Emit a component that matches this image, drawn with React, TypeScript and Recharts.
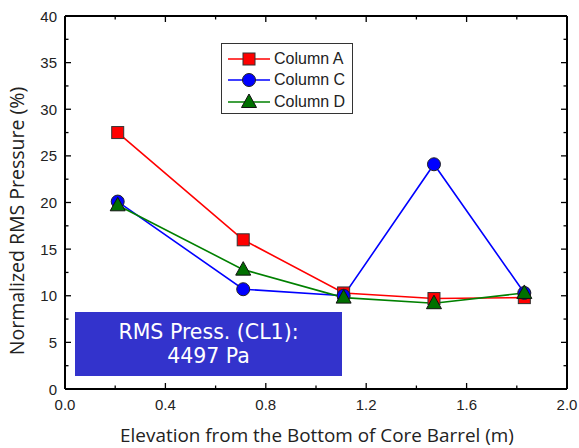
import React from 'react';
import { LineChart, Line, XAxis, YAxis, Legend } from 'recharts';

const elevation = [0.21, 0.71, 1.11, 1.47, 1.83];
const columnA = [27.5, 16.0, 10.3, 9.7, 9.8];
const columnC = [20.1, 10.7, 10.0, 24.1, 10.3];
const columnD = [19.7, 12.8, 9.8, 9.2, 10.3];
const seriesNames = ['Column A', 'Column C', 'Column D'];
const xTicks = [0, 0.2, 0.4, 0.6, 0.8, 1.0, 1.2, 1.4, 1.6, 1.8, 2.0];
const yTicks = [0, 2.5, 5, 7.5, 10, 12.5, 15, 17.5, 20, 22.5, 25, 27.5, 30, 32.5, 35, 37.5, 40];
const xTitle = 'Elevation from the Bottom of Core Barrel (m)';
const yTitle = 'Normalized RMS Pressure (%)';
const boxLines = ['RMS Press. (CL1):', '4497 Pa'];

const data = elevation.map((x, i) => ({ x, a: columnA[i], c: columnC[i], d: columnD[i] }));

const W = 579, H = 448, L = 65, R = 567, T = 16, B = 389;
const TICK_FONT = '"Liberation Sans", Arial, sans-serif';
const TITLE_FONT = '"Open Sans", "Noto Sans", sans-serif';
const BOX_FONT = '"DejaVu Sans", sans-serif';
const TXT = '#222';

const isMajorX = (v: number) => Math.round(v / 0.2) % 2 === 0;
const isMajorY = (v: number) => Math.round(v / 2.5) % 2 === 0;

const BottomTick = (p: any) => {
  const v = p.payload.value;
  const major = isMajorX(v);
  return (
    <g>
      <line x1={p.x} x2={p.x} y1={B} y2={B - (major ? 6 : 3.5)} stroke="#000" strokeWidth={1.3} />
      {major && (
        <text x={p.x} y={B + 21} textAnchor="middle" fontSize={15} fontFamily={TICK_FONT} fill={TXT}>
          {v.toFixed(1)}
        </text>
      )}
    </g>
  );
};
const TopTick = (p: any) => {
  const major = isMajorX(p.payload.value);
  return <line x1={p.x} x2={p.x} y1={T} y2={T + (major ? 6 : 3.5)} stroke="#000" strokeWidth={1.3} />;
};
const LeftTick = (p: any) => {
  const v = p.payload.value;
  const major = isMajorY(v);
  return (
    <g>
      <line x1={L} x2={L + (major ? 6 : 3.5)} y1={p.y} y2={p.y} stroke="#000" strokeWidth={1.3} />
      {major && (
        <text x={L - 8} y={p.y + 5.5} textAnchor="end" fontSize={15} fontFamily={TICK_FONT} fill={TXT}>
          {v}
        </text>
      )}
    </g>
  );
};
const RightTick = (p: any) => {
  const major = isMajorY(p.payload.value);
  return <line x1={R} x2={R - (major ? 6 : 3.5)} y1={p.y} y2={p.y} stroke="#000" strokeWidth={1.3} />;
};

const Square = ({ cx, cy }: any) => (
  <rect x={cx - 6} y={cy - 6} width={12} height={12} fill="#ff0000" stroke="#333" strokeWidth={1} />
);
const Circ = ({ cx, cy }: any) => <circle cx={cx} cy={cy} r={6.5} fill="#0000ff" stroke="#222" strokeWidth={1} />;
const Tri = ({ cx, cy }: any) => (
  <polygon
    points={`${cx},${cy - 8} ${cx - 7.5},${cy + 5.5} ${cx + 7.5},${cy + 5.5}`}
    fill="#007000"
    stroke="#111"
    strokeWidth={1}
  />
);

const markerFor = (name: string, cx: number, cy: number) => {
  if (name === seriesNames[0]) return <Square cx={cx} cy={cy} />;
  if (name === seriesNames[1]) return <Circ cx={cx} cy={cy} />;
  return <Tri cx={cx} cy={cy} />;
};

const LegendContent = (props: any) => {
  const items = (props.payload || []).filter((it: any) => seriesNames.includes(it.value));
  return (
    <div
      style={{
        border: '1px solid #333',
        background: '#fff',
        width: 132,
        height: 71,
        boxSizing: 'border-box',
        padding: '4px 0 0 6px',
      }}
    >
      {items.map((it: any) => (
        <div key={it.value} style={{ display: 'flex', alignItems: 'center', height: 21.5 }}>
          <svg width={42} height={20}>
            <line x1={0} x2={42} y1={10} y2={10} stroke={it.color} strokeWidth={1.5} />
            {markerFor(it.value, 21, 10)}
          </svg>
          <span style={{ fontFamily: TICK_FONT, fontSize: 16, color: TXT, marginLeft: 4 }}>{it.value}</span>
        </div>
      ))}
    </div>
  );
};

export default function App() {
  return (
    <div style={{ position: 'absolute', left: 0, top: 0, width: W, height: H, background: '#fff' }}>
      <LineChart width={W} height={H} data={data} margin={{ top: 0, right: 0, bottom: 0, left: 0 }}>
        <XAxis
          xAxisId="bottom"
          dataKey="x"
          type="number"
          domain={[0, 2]}
          ticks={xTicks}
          height={H - B}
          axisLine={{ stroke: '#000', strokeWidth: 2 }}
          tickLine={false}
          tick={<BottomTick />}
          interval={0}
          allowDataOverflow
          label={{
            content: () => (
              <text x={317} y={442} textAnchor="middle" fontSize={18.9} fontFamily={TITLE_FONT} fill={TXT}>
                {xTitle}
              </text>
            ),
          }}
        />
        <XAxis
          xAxisId="top"
          orientation="top"
          dataKey="x"
          type="number"
          domain={[0, 2]}
          ticks={xTicks}
          height={T}
          axisLine={{ stroke: '#000', strokeWidth: 2 }}
          tickLine={false}
          tick={<TopTick />}
          interval={0}
          allowDataOverflow
        />
        <YAxis
          yAxisId="left"
          type="number"
          domain={[0, 40]}
          ticks={yTicks}
          width={L}
          axisLine={{ stroke: '#000', strokeWidth: 2 }}
          tickLine={false}
          tick={<LeftTick />}
          interval={0}
          allowDataOverflow
          label={{
            content: () => (
              <text
                x={0}
                y={0}
                transform={`translate(24, 221) rotate(-90)`}
                textAnchor="middle"
                fontSize={19.5}
                fontFamily={TITLE_FONT}
                fill={TXT}
              >
                {yTitle}
              </text>
            ),
          }}
        />
        <YAxis
          yAxisId="right"
          orientation="right"
          type="number"
          domain={[0, 40]}
          ticks={yTicks}
          width={W - R}
          axisLine={{ stroke: '#000', strokeWidth: 2 }}
          tickLine={false}
          tick={<RightTick />}
          interval={0}
          allowDataOverflow
        />
        <Legend
          layout="vertical"
          align="center"
          verticalAlign="middle"
          content={<LegendContent />}
          wrapperStyle={{ position: 'absolute', left: 221, top: 43, width: 132 }}
        />
        <Line
          xAxisId="bottom"
          yAxisId="left"
          name={seriesNames[0]}
          dataKey="a"
          stroke="#ff0000"
          strokeWidth={1.6}
          dot={(p: any) => <Square key={`a${p.index}`} cx={p.cx} cy={p.cy} />}
          activeDot={false}
          isAnimationActive={false}
        />
        <Line
          xAxisId="bottom"
          yAxisId="left"
          name={seriesNames[1]}
          dataKey="c"
          stroke="#0000ff"
          strokeWidth={1.6}
          dot={(p: any) => <Circ key={`c${p.index}`} cx={p.cx} cy={p.cy} />}
          activeDot={false}
          isAnimationActive={false}
        />
        <Line
          xAxisId="bottom"
          yAxisId="left"
          name={seriesNames[2]}
          dataKey="d"
          stroke="#008000"
          strokeWidth={1.6}
          dot={(p: any) => <Tri key={`d${p.index}`} cx={p.cx} cy={p.cy} />}
          activeDot={false}
          isAnimationActive={false}
        />
        <Line
          xAxisId="top"
          yAxisId="right"
          dataKey="a"
          stroke="none"
          dot={false}
          activeDot={false}
          legendType="none"
          isAnimationActive={false}
        />
      </LineChart>
      <div
        style={{
          position: 'absolute',
          left: 75,
          top: 312,
          width: 267,
          height: 64,
          background: '#3333cc',
          color: '#fff',
          fontFamily: BOX_FONT,
          fontSize: 20.5,
          lineHeight: '24px',
          textAlign: 'center',
          paddingTop: 8,
          boxSizing: 'border-box',
        }}
      >
        {boxLines.map((t) => (
          <div key={t}>{t}</div>
        ))}
      </div>
    </div>
  );
}
